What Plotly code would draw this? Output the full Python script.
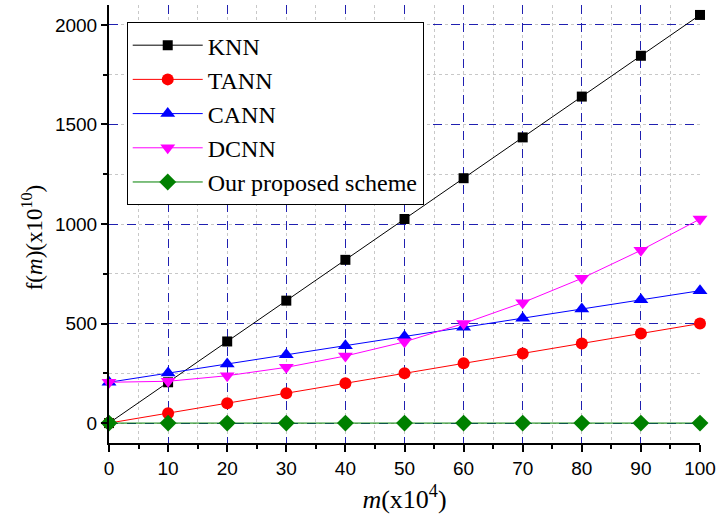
import plotly.graph_objects as go

m = [0, 10, 20, 30, 40, 50, 60, 70, 80, 90, 100]
knn = [0, 205, 410, 615, 820, 1025, 1230, 1435, 1640, 1845, 2050]
tann = [0, 50, 100, 150, 200, 250, 300, 350, 400, 450, 500]
cann = [205, 251, 297, 343, 389, 435, 481, 527, 573, 619, 665]
dcnn = [205, 210, 238, 280, 337, 408, 500, 605, 727, 868, 1025]
ours = [0, 0, 0, 0, 0, 0, 0, 0, 0, 0, 0]

x_ticks = [0, 10, 20, 30, 40, 50, 60, 70, 80, 90, 100]
y_ticks = [0, 500, 1000, 1500, 2000]

series = [
    ("KNN", knn, "black", "square", 10),
    ("TANN", tann, "red", "circle", 12),
    ("CANN", cann, "blue", "triangle-up", 13),
    ("DCNN", dcnn, "magenta", "triangle-down", 13),
    ("Our proposed scheme", ours, "green", "diamond", 13),
]

fig = go.Figure()
for name, ys, col, sym, sz in series:
    fig.add_trace(go.Scatter(
        x=m, y=ys, name=name, mode="lines+markers",
        line=dict(color=col, width=1),
        marker=dict(color=col, symbol=sym, size=sz, line=dict(width=0)),
        cliponaxis=False,
    ))

serif = "Liberation Serif, Times New Roman, serif"
sans = "Liberation Sans, Arial, sans-serif"

fig.update_layout(
    width=721, height=517,
    margin=dict(l=109, r=17, t=5, b=74),
    paper_bgcolor="white", plot_bgcolor="white",
    showlegend=True,
    legend=dict(
        x=0.030, y=0.961, xanchor="left", yanchor="top",
        bgcolor="white", bordercolor="black", borderwidth=1,
        font=dict(family=serif, size=24, color="black"),
        tracegroupgap=0, itemwidth=70,
    ),
    xaxis=dict(
        range=[0, 100], tickvals=x_ticks, ticktext=[str(v) for v in x_ticks],
        showline=True, linecolor="black", linewidth=2,
        ticks="outside", ticklen=7, tickwidth=2, tickcolor="black",
        tickfont=dict(family=sans, size=19, color="black"),
        showgrid=True, gridcolor="#2020b0", griddash="dash", gridwidth=1,
        zeroline=False,
        minor=dict(dtick=5, tick0=0, ticks="outside", ticklen=4, tickwidth=2,
                   tickcolor="black", showgrid=True, gridcolor="#c8c8c8",
                   griddash="dot", gridwidth=1),
        title=dict(text="<i>m</i>(x10<sup>4</sup>)", standoff=12,
                   font=dict(family=serif, size=26, color="black")),
    ),
    yaxis=dict(
        range=[-100, 2100], tickvals=y_ticks, ticktext=[str(v) for v in y_ticks],
        showline=True, linecolor="black", linewidth=2,
        ticks="outside", ticklen=6, tickwidth=2, tickcolor="black",
        tickfont=dict(family=sans, size=19, color="black"),
        showgrid=True, gridcolor="#2020b0", griddash="dash", gridwidth=1,
        zeroline=False,
        minor=dict(dtick=250, tick0=0, ticks="outside", ticklen=4, tickwidth=2,
                   tickcolor="black", showgrid=True, gridcolor="#c8c8c8",
                   griddash="dot", gridwidth=1),
    ),
    xaxis2=dict(
        overlaying="x", side="top", anchor="y", range=[0, 100],
        tickvals=x_ticks, showticklabels=False,
        showline=True, linecolor="black", linewidth=2,
        ticks="inside", ticklen=7, tickwidth=2, tickcolor="black",
        showgrid=False, zeroline=False,
        minor=dict(dtick=5, tick0=0, ticks="inside", ticklen=4, tickwidth=2,
                   tickcolor="black", showgrid=False),
    ),
    yaxis2=dict(
        overlaying="y", side="right", anchor="x", range=[-100, 2100],
        tickvals=y_ticks, showticklabels=False,
        showline=True, linecolor="black", linewidth=2,
        ticks="inside", ticklen=6, tickwidth=2, tickcolor="black",
        showgrid=False, zeroline=False,
        minor=dict(dtick=250, tick0=0, ticks="inside", ticklen=4, tickwidth=2,
                   tickcolor="black", showgrid=False),
    ),
    annotations=[dict(
        text="f(<i>m</i>)(x10<sup>10</sup>)", textangle=-90,
        xref="paper", yref="paper", x=-0.13, y=0.47,
        xanchor="center", yanchor="middle", showarrow=False,
        font=dict(family=serif, size=23, color="black"),
    )],
)

fig.write_html(
    "out.html",
    config={"displayModeBar": False},
    post_script="document.body.style.margin='0';document.body.style.overflow='hidden';",
)
